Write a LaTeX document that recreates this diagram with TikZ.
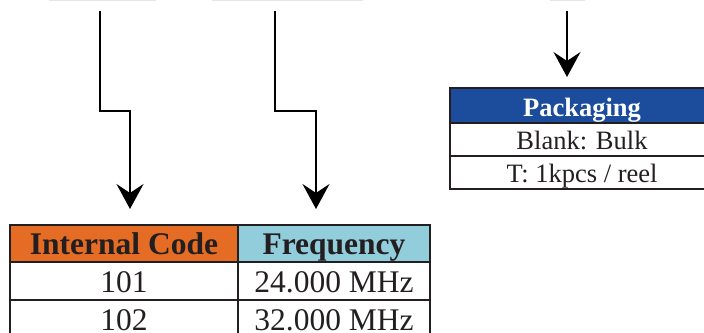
\documentclass[tikz,border=0pt]{standalone}
\usepackage{fontspec}
\setmainfont{Liberation Serif}
\usetikzlibrary{arrows.meta}
\definecolor{codeorange}{HTML}{E46C24}
\definecolor{freqblue}{HTML}{92CDDC}
\definecolor{packblue}{HTML}{1C4C9C}
\definecolor{inkgray}{HTML}{231F20}
\definecolor{rulegray}{HTML}{E6E6E6}

\begin{document}
\begin{tikzpicture}[x=1pt,y=-1pt,>={Stealth[length=25pt,width=27pt,inset=9pt]},
                    line width=2pt]
  \tikzstyle{cell}=[draw=inkgray,rectangle,inner sep=0pt,text=inkgray,text depth=0pt]
  \tikzstyle{big}=[cell,font=\fontsize{31.5}{36}\selectfont,text height=22.6pt]
  \tikzstyle{small}=[cell,font=\fontsize{26.5}{30}\selectfont,text height=19.6pt]

  \useasboundingbox (0,0) rectangle (704,332);
  \clip (0,0) rectangle (704,332);

  % faint edges of the boxes above
  \draw[rulegray,line width=1.5pt] (49,0.5) -- (156,0.5)
       (212,0.5) -- (363,0.5) (550,0.5) -- (585,0.5);

  \coordinate (codeTop) at (100,11);
  \coordinate (freqTop) at (275,11);
  \coordinate (packTop) at (567,11);

  % code / frequency table
  \node[big,fill=codeorange,minimum width=228pt,minimum height=37pt] (codeHead) at (124,243.5) {\textbf{Internal Code}};
  \node[big,fill=freqblue,minimum width=192pt,minimum height=37pt]  (freqHead) at (334,243.5) {\textbf{Frequency}};
  \node[big,minimum width=228pt,minimum height=38pt] (code1) at (124,281) {101};
  \node[big,minimum width=192pt,minimum height=38pt] (freq1) at (334,281) {24.000 MHz};
  \node[big,minimum width=228pt,minimum height=38pt] (code2) at (124,319) {102};
  \node[big,minimum width=192pt,minimum height=38pt] (freq2) at (334,319) {32.000 MHz};

  % packaging table
  \node[small,fill=packblue,text=white,text height=22.4pt,minimum width=264pt,minimum height=35pt] (packHead) at (582,105.5) {\textbf{Packaging}};
  \node[small,minimum width=264pt,minimum height=33pt] (packBulk) at (582,139.5) {Blank: Bulk};
  \node[small,minimum width=264pt,minimum height=33pt] (packReel) at (582,172.5) {T: 1kpcs / reel};

  \draw[->,shorten >=15pt] (codeTop) -- ++(0,100) -| ([xshift=6pt]codeHead.north);
  \draw[->,shorten >=15pt] (freqTop) -- ++(0,100) -| ([xshift=-18pt]freqHead.north);
  \draw[->,shorten >=10pt] (packTop) -- ([xshift=-15pt]packHead.north);
\end{tikzpicture}
\end{document}
